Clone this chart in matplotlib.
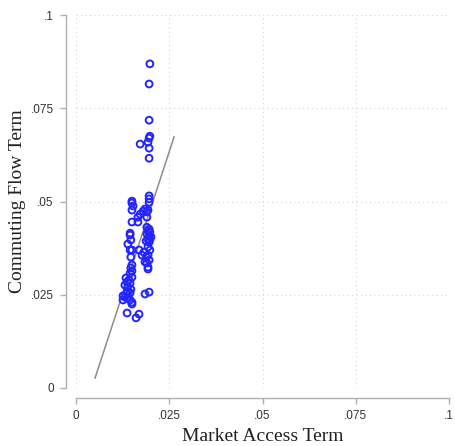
import matplotlib
matplotlib.use("Agg")
import matplotlib.pyplot as plt
import numpy as np

# Scatter data (Market Access Term, Commuting Flow Term)
market_access = [
    0.0198, 0.0196, 0.0196, 0.0198, 0.0196, 0.0193, 0.0172, 0.0196, 0.0196,
    0.0196, 0.0196, 0.0196,
    0.0150, 0.0150, 0.0153, 0.0150,
    0.0180, 0.0172, 0.0166, 0.0190, 0.0193, 0.0185,
    0.0150, 0.0166, 0.0190,
    0.0190, 0.0196, 0.0193, 0.0198, 0.0190, 0.0196, 0.0201, 0.0193, 0.0198, 0.0188, 0.0196,
    0.0145, 0.0145, 0.0147, 0.0139,
    0.0145, 0.0150, 0.0169, 0.0177, 0.0182,
    0.0193, 0.0198, 0.0193, 0.0188, 0.0196, 0.0185, 0.0190, 0.0193, 0.0193,
    0.0150, 0.0147, 0.0150, 0.0145, 0.0150,
    0.0134, 0.0137, 0.0131, 0.0145, 0.0139,
    0.0137, 0.0139, 0.0145,
    0.0185, 0.0196,
    0.0126, 0.0131, 0.0137, 0.0126, 0.0145, 0.0150, 0.0150,
    0.0137, 0.0161, 0.0169,
    0.0147, 0.0142, 0.0147,
]
commuting_flow = [
    0.0869, 0.0815, 0.0718, 0.0675, 0.0670, 0.0659, 0.0654, 0.0643, 0.0616,
    0.0515, 0.0507, 0.0498,
    0.0501, 0.0496, 0.0488, 0.0477,
    0.0474, 0.0466, 0.0458, 0.0472, 0.0477, 0.0480,
    0.0445, 0.0445, 0.0458,
    0.0431, 0.0426, 0.0421, 0.0418, 0.0413, 0.0407, 0.0405, 0.0399, 0.0397, 0.0394, 0.0391,
    0.0415, 0.0410, 0.0397, 0.0386,
    0.0370, 0.0370, 0.0370, 0.0356, 0.0364,
    0.0378, 0.0370, 0.0356, 0.0351, 0.0343, 0.0338, 0.0335, 0.0324, 0.0319,
    0.0330, 0.0322, 0.0314, 0.0308, 0.0297,
    0.0295, 0.0284, 0.0276, 0.0281, 0.0271,
    0.0260, 0.0257, 0.0255,
    0.0252, 0.0257,
    0.0247, 0.0244, 0.0241, 0.0236, 0.0236, 0.0230, 0.0225,
    0.0201, 0.0188, 0.0198,
    0.0351, 0.0290, 0.0265,
]

# Linear fit line
fit_intercept = -0.0129
fit_slope = 3.05
fit_x_range = [0.0051, 0.0263]

ticks = [0, 0.025, 0.05, 0.075, 0.1]
tick_labels = ["0", ".025", ".05", ".075", ".1"]

fig = plt.figure(figsize=(4.55, 4.46), dpi=100)
ax = fig.add_axes([76 / 455, 58 / 446, 373 / 455, 373 / 446])

ax.set_xlim(0, 0.1)
ax.set_ylim(0, 0.1)

ax.scatter(market_access, commuting_flow, s=24, facecolors="none",
           edgecolors="#2424ff", linewidths=1.4, zorder=3, clip_on=False)

fx = np.array(fit_x_range)
ax.plot(fx, fit_intercept + fit_slope * fx, color="#8c8c8c", lw=1.1, zorder=2)

ax.set_xticks(ticks)
ax.set_xticklabels(tick_labels)
ax.set_yticks(ticks)
ax.set_yticklabels(tick_labels)

ax.grid(True, color="#d4d4d4", linestyle=(0, (1, 3)), linewidth=0.8)
ax.set_axisbelow(True)

for s in ["top", "right"]:
    ax.spines[s].set_visible(False)
ax.spines["left"].set_position(("outward", 7))
ax.spines["bottom"].set_position(("outward", 7))
for s in ["left", "bottom"]:
    ax.spines[s].set_color("#b0b0b0")
    ax.spines[s].set_linewidth(1.0)

ax.tick_params(axis="both", direction="out", length=4, width=1.0,
               color="#b0b0b0", labelsize=8.5, labelcolor="#333333")
for lbl in ax.get_xticklabels() + ax.get_yticklabels():
    lbl.set_family(["Liberation Sans", "DejaVu Sans"])
ax.tick_params(axis="y", pad=5)
ax.tick_params(axis="x", pad=5)

label_font = dict(family=["Liberation Serif", "DejaVu Serif"], size=14, color="#222222")
ax.set_xlabel("Market Access Term", labelpad=4, **label_font)
ax.set_ylabel("Commuting Flow Term", labelpad=3, **label_font)

fig.savefig("out.png", dpi=100)
